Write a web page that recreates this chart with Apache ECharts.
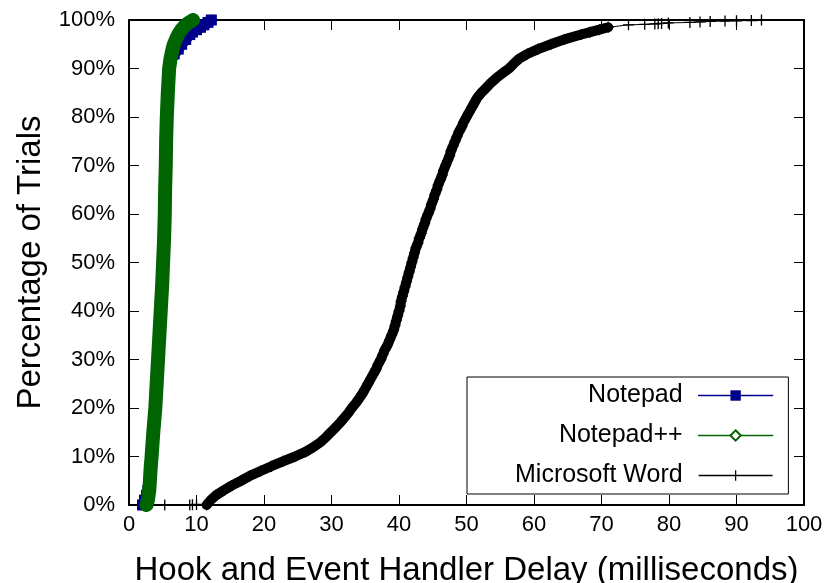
<!DOCTYPE html>
<html>
<head>
<meta charset="utf-8">
<script src="https://cdn.jsdelivr.net/npm/echarts@6/dist/echarts.min.js"></script>
<style>
html, body { margin: 0; padding: 0; background: #fff; }
#main { width: 830px; height: 583px; }
</style>
</head>
<body>
<div id="main"></div>
<script>
// CDF of hook + event handler delay
var notepadPct = [0, 1, 2, 3, 5, 7.5, 10, 15, 20, 25, 30, 35, 40, 45, 50, 55, 60, 65, 70, 75,
  80, 85, 90, 92, 93, 94, 95, 96, 97, 97.5, 98, 98.5, 99, 99.5, 100];
var notepadDelay = [2.0, 2.3, 2.6, 2.8, 3.0, 3.15, 3.3, 3.55, 3.85, 4.05, 4.25, 4.45, 4.65, 4.85, 5.0, 5.15, 5.25, 5.3, 5.4, 5.5,
  5.6, 5.75, 6.0, 6.3, 6.7, 7.3, 7.8, 8.4, 9.0, 9.4, 10.0, 10.6, 11.1, 11.7, 12.2];

var nppPct = [0, 1, 2, 3, 5, 7.5, 10, 15, 20, 25, 30, 35, 40, 45, 50, 55, 60, 65, 70, 75,
  80, 85, 90, 92, 94, 95, 96, 97, 98, 99, 99.5, 100];
var nppDelay = [2.6, 2.8, 2.9, 3.0, 3.1, 3.2, 3.35, 3.6, 3.9, 4.1, 4.3, 4.5, 4.7, 4.9, 5.05, 5.2, 5.3, 5.35, 5.45, 5.5,
  5.6, 5.75, 5.95, 6.15, 6.45, 6.65, 6.95, 7.3, 7.75, 8.4, 8.9, 9.5];

// Word: a few early outliers, the dense body, then the sparse tail
var wordHeadPct = [0, 0, 0.05, 0.1];
var wordHeadDelay = [5.3, 9.0, 9.4, 10.0];
var wordBodyPct = [0, 1, 2, 3, 4, 5, 6, 7, 8, 9, 10, 11, 12, 13, 14, 15, 16, 17, 18, 19,
  20, 21, 22, 23, 24, 25, 26, 27, 28, 29, 30, 31, 32, 33, 34, 35, 36, 37, 38, 39,
  40, 41, 42, 43, 44, 45, 46, 47, 48, 49, 50, 51, 52, 53, 54, 55, 56, 57, 58, 59,
  60, 61, 62, 63, 64, 65, 66, 67, 68, 69, 70, 71, 72, 73, 74, 75, 76, 77, 78, 79,
  80, 81, 82, 83, 84, 85, 86, 87, 88, 89, 90, 91, 92, 93, 94, 95, 96, 97, 97.5, 98, 98.5];
var wordBodyDelay = [11.5, 12.1, 12.9, 14.0, 15.2, 16.6, 17.9, 19.5, 21.1, 22.8, 24.6, 26.2, 27.4, 28.4, 29.2, 29.9, 30.6, 31.3, 31.9, 32.5,
  33.0, 33.6, 34.1, 34.6, 35.0, 35.4, 35.8, 36.2, 36.6, 36.9, 37.3, 37.6, 37.9, 38.3, 38.6, 38.9, 39.2, 39.4, 39.6, 39.8,
  40.0, 40.2, 40.3, 40.5, 40.7, 40.9, 41.1, 41.3, 41.5, 41.7, 41.9, 42.1, 42.3, 42.5, 42.8, 43.0, 43.3, 43.5, 43.8, 44.0,
  44.3, 44.6, 44.8, 45.1, 45.3, 45.6, 45.8, 46.1, 46.4, 46.6, 46.9, 47.2, 47.5, 47.7, 48.0, 48.3, 48.6, 48.9, 49.3, 49.6,
  50.0, 50.4, 50.8, 51.2, 51.6, 52.2, 52.9, 53.6, 54.4, 55.3, 56.3, 57.0, 57.8, 59.0, 60.6, 62.5, 64.5, 67.0, 68.3, 69.7, 71.0];
var wordTailPct = [99, 99.1, 99.2, 99.25, 99.3, 99.4, 99.5, 99.6, 99.7, 99.8, 99.85, 99.9, 100];
var wordTailDelay = [74.0, 76.4, 77.9, 78.4, 78.9, 79.9, 83.1, 84.6, 86.1, 88.3, 90.0, 92.2, 93.7];

var FONT = 'Liberation Sans';
var plusSymbol = 'path://M0,4.4H10V5.6H0Z M4.4,0H5.6V10H4.4Z';

function zip(xs, ys) {
  var out = [];
  for (var i = 0; i < xs.length; i++) out.push([xs[i], ys[i]]);
  return out;
}

var notepadData = zip(notepadDelay, notepadPct);
var nppData = zip(nppDelay, nppPct);
var wordBody = zip(wordBodyDelay, wordBodyPct);
var wordAll = zip(wordHeadDelay, wordHeadPct).concat(wordBody, zip(wordTailDelay, wordTailPct));

function frameAxis(pos, extra) {
  var ax = {
    type: 'value', min: 0, max: 100, interval: 10, position: pos,
    axisLine: { show: true, onZero: false, lineStyle: { color: '#000', width: 2 } },
    axisTick: { show: true, inside: true, length: 10, lineStyle: { color: '#000', width: 1 } },
    axisLabel: { show: false },
    splitLine: { show: false }
  };
  for (var k in extra) ax[k] = extra[k];
  return ax;
}

var myChart = echarts.init(document.getElementById('main'));

var option = {
  animation: false,
  backgroundColor: '#fff',
  grid: { left: 129, right: 26, top: 20, bottom: 78, containLabel: false, outerBoundsMode: 'none' },
  xAxis: [
    frameAxis('bottom', {
      axisLabel: { show: true, fontSize: 22, color: '#000', fontFamily: FONT, margin: 9 },
      name: 'Hook and Event Handler Delay (milliseconds)',
      nameLocation: 'middle', nameGap: 49,
      nameTextStyle: { fontSize: 33, color: '#000', fontFamily: FONT }
    }),
    frameAxis('top', {})
  ],
  yAxis: [
    frameAxis('left', {
      axisLabel: { show: true, fontSize: 22, color: '#000', fontFamily: FONT, margin: 14, formatter: '{value}%' },
      name: 'Percentage of Trials',
      nameLocation: 'middle', nameGap: 82,
      nameTextStyle: { fontSize: 33, color: '#000', fontFamily: FONT }
    }),
    frameAxis('right', {})
  ],
  legend: {
    data: ['Notepad', 'Notepad++', 'Microsoft Word'],
    orient: 'vertical',
    align: 'right',
    left: 467, top: 377,
    padding: [6, 15, 6, 48],
    itemGap: 15, itemWidth: 74, itemHeight: 13,
    borderColor: '#000', borderWidth: 1, borderRadius: 0,
    backgroundColor: '#fff',
    selectedMode: false,
    lineStyle: { width: 1.5 },
    formatter: function (name) { return '{a|' + name + '}'; },
    textStyle: {
      fontFamily: FONT, fontSize: 25, color: '#000',
      rich: { a: { fontFamily: FONT, fontSize: 25, lineHeight: 24, color: '#000', padding: [0, 11, 0, 0] } }
    }
  },
  series: [
    {
      name: 'Notepad', type: 'line', data: notepadData, z: 2,
      symbol: 'rect', symbolSize: 11, showSymbol: true,
      lineStyle: { color: '#00008b', width: 11, cap: 'round', join: 'round' },
      itemStyle: { color: '#00008b' }
    },
    {
      name: 'Notepad++', type: 'line', data: nppData, z: 3,
      symbol: 'emptyDiamond', symbolSize: 12, showSymbol: false,
      lineStyle: { color: '#006400', width: 14, cap: 'round', join: 'round' },
      itemStyle: { color: '#006400' }
    },
    {
      // markers and thin line over all points
      name: 'Microsoft Word', type: 'line', data: wordAll, z: 5,
      symbol: plusSymbol, symbolSize: 11, showSymbol: true,
      lineStyle: { color: '#000', width: 1 },
      itemStyle: { color: '#000' }
    },
    {
      // dense body of the curve where the markers merge into a band
      name: 'Microsoft Word', type: 'line', data: wordBody, z: 4,
      symbol: 'none', showSymbol: false,
      lineStyle: { color: '#000', width: 10, cap: 'round', join: 'round' }
    }
  ]
};

myChart.setOption(option);

window.addEventListener('resize', function () {
  myChart.resize();
});
</script>
</body>
</html>
